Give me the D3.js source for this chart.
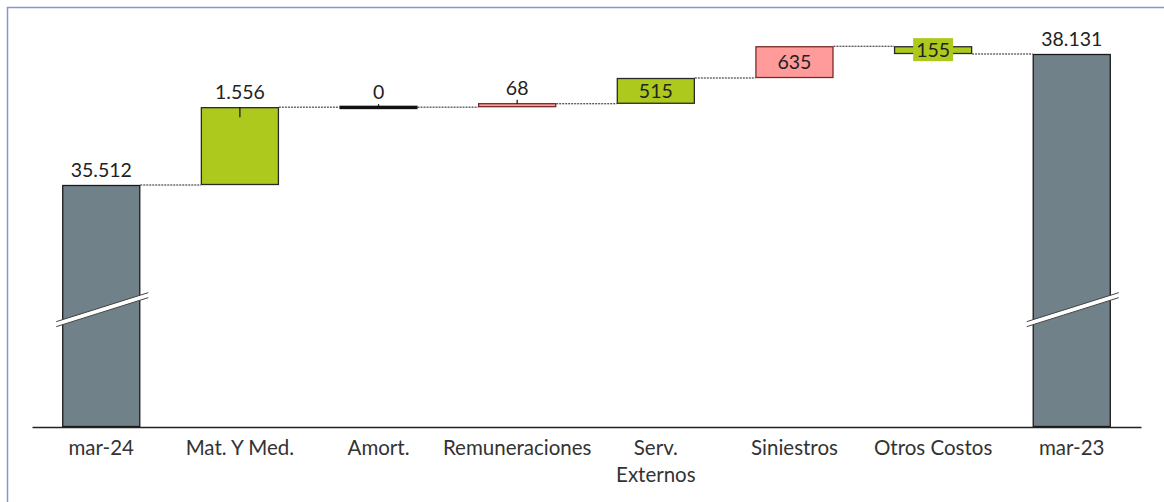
<!DOCTYPE html>
<html>
<head>
<meta charset="utf-8">
<script src="https://cdn.jsdelivr.net/npm/d3@7"></script>
<style>
  html, body { margin: 0; padding: 0; background: #fff; }
  svg { display: block; }
  text { font-family: Lato, "Open Sans", sans-serif; }
</style>
</head>
<body>
<svg id="chart" width="1164" height="502"></svg>
<script>
// Waterfall: mar-24 to mar-23 bridge, by cost category
const categories = ["mar-24", "Mat. Y Med.", "Amort.", "Remuneraciones", "Serv. Externos", "Siniestros", "Otros Costos", "mar-23"];
const values     = [35512, 1556, 0, 68, 515, 635, -155, 38131];
const labels     = ["35.512", "1.556", "0", "68", "515", "635", "155", "38.131"];
const kinds      = ["total", "good", "zero", "bad", "good", "bad", "good", "total"];
const labelPlace = ["above", "above", "above", "above", "inside", "inside", "boxed", "above"];

// Axis is broken: the value axis starts at this floor instead of zero
const axisFloor = 30674;
const axisTop = 38131;
const breakAt = 33070;

const svg = d3.select("#chart");

// outer frame
svg.append("rect")
  .attr("x", 7.5).attr("y", 7.5)
  .attr("width", 1180).attr("height", 530)
  .attr("fill", "none")
  .attr("stroke", "#8498C6")
  .attr("stroke-width", 1.5);

const x = d3.scaleBand().domain(categories).range([32, 1141]).paddingInner(0.437).paddingOuter(0.218);
const y = d3.scaleLinear().domain([axisFloor, axisTop]).range([427, 54]);

const color = d3.scaleOrdinal()
  .domain(["total", "good", "bad", "zero"])
  .range(["#718189", "#AEC91E", "#FF9B9B", "#111111"]);
const stroke = d3.scaleOrdinal()
  .domain(["total", "good", "bad", "zero"])
  .range(["#1a1a1a", "#2a2a2a", "#7a2a2a", "#111111"]);

// running levels for each step
const steps = [];
let level = 0;
values.forEach((v, i) => {
  if (kinds[i] === "total") {
    steps.push({ i, start: axisFloor, end: v });
    level = v;
  } else {
    steps.push({ i, start: level, end: level + v });
    level += v;
  }
});

// dotted connectors between consecutive bars
const conn = svg.append("g");
for (let k = 0; k < steps.length - 1; k++) {
  const lv = steps[k].end;
  conn.append("line")
    .attr("x1", x(categories[k]) + x.bandwidth())
    .attr("x2", x(categories[k + 1]))
    .attr("y1", y(lv)).attr("y2", y(lv))
    .attr("stroke", "#222")
    .attr("stroke-width", 1)
    .attr("stroke-dasharray", "2,1");
}

// bars
const bars = svg.append("g");
steps.forEach(s => {
  const c = categories[s.i];
  const k = kinds[s.i];
  const top = Math.min(y(s.start), y(s.end));
  const bot = Math.max(y(s.start), y(s.end));
  if (k === "zero") {
    bars.append("rect")
      .attr("x", x(c)).attr("y", top - 1.5)
      .attr("width", x.bandwidth()).attr("height", 3.5)
      .attr("fill", color(k));
    return;
  }
  let h = bot - top;
  let yy = top;
  if (h < 4) { yy = bot - 4; h = 4; }
  bars.append("rect")
    .attr("x", x(c) + 0.5).attr("y", yy + 0.5)
    .attr("width", x.bandwidth() - 1).attr("height", h - 1)
    .attr("fill", color(k))
    .attr("stroke", stroke(k))
    .attr("stroke-width", 1.3);
});

// small leader ticks on the step bars
const ticks = [
  { c: "Mat. Y Med.", y1: y(steps[1].end), y2: y(steps[1].end) + 10 },
  { c: "Amort.", y1: y(steps[2].end) - 3, y2: y(steps[2].end) },
  { c: "Remuneraciones", y1: y(steps[3].end) - 4, y2: y(steps[3].end) }
];
ticks.forEach(t => {
  svg.append("line")
    .attr("x1", x(t.c) + x.bandwidth() / 2).attr("x2", x(t.c) + x.bandwidth() / 2)
    .attr("y1", t.y1).attr("y2", t.y2)
    .attr("stroke", "#111").attr("stroke-width", 1.2);
});

// axis-break marks on the total bars
steps.filter(s => kinds[s.i] === "total").forEach(s => {
  const c = categories[s.i];
  const x0 = x(c) - 6, x1 = x(c) + x.bandwidth() + 8;
  const yb = y(breakAt);
  const slope = 14.5;
  const gap = 5;
  const pts = [[x0, yb + slope], [x1, yb - slope], [x1, yb - slope + gap], [x0, yb + slope + gap]];
  svg.append("polygon")
    .attr("points", pts.map(p => p.join(",")).join(" "))
    .attr("fill", "#fff");
  [0, gap].forEach(o => {
    svg.append("line")
      .attr("x1", x0).attr("y1", yb + slope + o)
      .attr("x2", x1).attr("y2", yb - slope + o)
      .attr("stroke", "#444").attr("stroke-width", 1);
  });
});

// baseline axis with category labels
const axis = d3.axisBottom(x).tickSize(0).tickPadding(10);
const gx = svg.append("g").attr("transform", `translate(0,${y(axisFloor)})`).call(axis);
gx.select(".domain").attr("stroke", "#222").attr("stroke-width", 1.3);
gx.selectAll(".tick text")
  .attr("font-family", "Lato, 'Open Sans', sans-serif")
  .attr("font-size", 20.5)
  .attr("fill", "#333")
  .attr("dy", null)
  .attr("y", 28)
  .each(function (d) {
    const t = d3.select(this);
    const parts = d.split(" ");
    if (d === "Serv. Externos") {
      t.text(null);
      t.append("tspan").attr("x", 0).text(parts[0]);
      t.append("tspan").attr("x", 0).attr("dy", 27).text(parts[1]);
    }
  });

// value labels
const lab = svg.append("g");
steps.forEach(s => {
  const c = categories[s.i];
  const cx = x(c) + x.bandwidth() / 2;
  const top = Math.min(y(s.start), y(s.end));
  const bot = Math.max(y(s.start), y(s.end));
  const place = labelPlace[s.i];
  if (place === "above") {
    lab.append("text")
      .attr("x", cx).attr("y", Math.min(top, kinds[s.i] === "bad" ? bot - 4 : top) - 8)
      .attr("text-anchor", "middle")
      .attr("font-size", 19.5).attr("fill", "#222")
      .text(labels[s.i]);
  } else {
    const mid = (top + bot) / 2;
    const t = lab.append("text")
      .attr("x", cx).attr("y", mid)
      .attr("dy", "0.36em")
      .attr("text-anchor", "middle")
      .attr("font-size", 19.5).attr("fill", "#222")
      .text(labels[s.i]);
    if (place === "boxed") {
      const bb = t.node().getBBox();
      lab.insert("rect", "text")
        .attr("x", bb.x - 3).attr("y", bb.y)
        .attr("width", bb.width + 6).attr("height", bb.height)
        .attr("fill", color(kinds[s.i]));
    }
  }
});
</script>
</body>
</html>
